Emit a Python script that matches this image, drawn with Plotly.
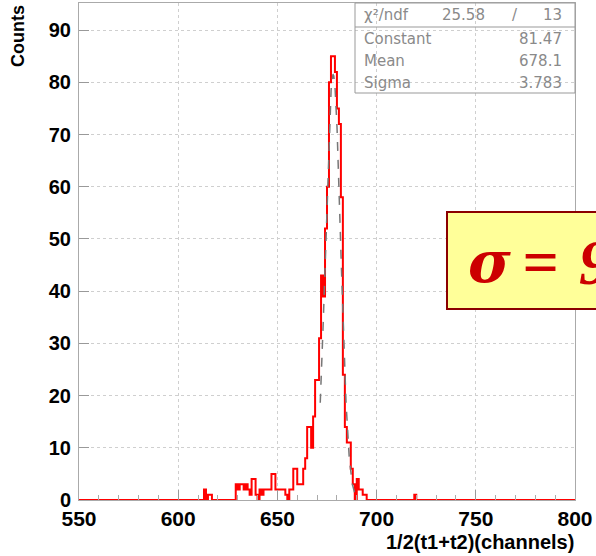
import numpy as np
import plotly.graph_objects as go

# ---- data -------------------------------------------------------------
channels = list(range(610, 722))
counts_nonzero = {
    613: 2, 615: 1, 616: 1,
    629: 3, 630: 2, 631: 3, 632: 3, 633: 2, 634: 3, 635: 2, 636: 1, 637: 4,
    638: 4, 639: 1, 641: 2, 642: 1, 643: 2, 644: 2, 645: 2, 646: 2, 647: 5,
    648: 5, 649: 2, 650: 2, 651: 2, 652: 2, 653: 2, 654: 1,
    656: 2, 657: 2, 658: 6, 659: 6, 660: 3, 661: 3, 662: 3, 663: 6, 664: 8,
    665: 14, 666: 14, 667: 10, 668: 16, 669: 23, 670: 23, 671: 31, 672: 43,
    673: 39, 674: 52, 675: 60, 676: 80, 677: 85, 678: 85, 679: 82, 680: 75,
    681: 72, 682: 58, 683: 24, 684: 14, 685: 11, 686: 11, 687: 6, 688: 3,
    690: 4, 691: 2, 692: 2, 693: 1, 694: 1, 719: 1,
}
counts = [counts_nonzero.get(c, 0) for c in channels]

x_range = [550, 800]
y_range = [0, 95.2]
x_ticks = [550, 600, 650, 700, 750, 800]
y_ticks = [0, 10, 20, 30, 40, 50, 60, 70, 80, 90]

fit_constant = 81.47
fit_mean = 678.1
fit_sigma = 3.783
fit_lo, fit_hi = 671.6, 690.0
stats_rows = [("Constant", "81.47"), ("Mean", "678.1"), ("Sigma", "3.783")]
chi2_text = ("χ²/ndf", "25.58", "/", "13")
sigma_label = ("σ", "=", "9")

# ---- histogram polyline ----------------------------------------------
hx = [x_range[0]] + channels + [channels[-1] + 1, x_range[1]]
hy = [0] + counts + [0, 0]

fx = np.linspace(fit_lo, fit_hi, 200)
fy = fit_constant * np.exp(-0.5 * ((fx - fit_mean) / fit_sigma) ** 2)

fig = go.Figure()
fig.add_trace(go.Scatter(x=hx, y=hy, mode="lines", line=dict(color="#ff0000", width=2, shape="hv"),
                         hoverinfo="skip", showlegend=False))
fig.add_trace(go.Scatter(x=fx, y=fy, mode="lines", line=dict(color="#777777", width=1.5, dash="dash"),
                         hoverinfo="skip", showlegend=False))

W, H = 596, 556
L, R, T, B = 79, 21, 3, 56
PW, PH = W - L - R, H - T - B


def px(x):
    return (x - L) / PW


def py(y):
    return (H - B - y) / PH


tickfont = dict(family="Liberation Sans, Arial", size=20, color="black", weight="bold")

fig.update_layout(
    width=W, height=H,
    margin=dict(l=L, r=R, t=T, b=B),
    paper_bgcolor="white", plot_bgcolor="white",
    xaxis=dict(range=x_range, tickvals=x_ticks, ticks="inside", ticklen=10, tickcolor="#999",
               showline=True, linecolor="#aaa", linewidth=1, mirror=True,
               showgrid=True, gridcolor="#cfcfcf", griddash="dot", gridwidth=1,
               minor=dict(dtick=10, ticks="inside", ticklen=5, tickcolor="#aaa", showgrid=False),
               tickfont=dict(tickfont, size=21), zeroline=False),
    yaxis=dict(range=y_range, tickvals=y_ticks, ticks="inside", ticklen=10, tickcolor="#999",
               showline=True, linecolor="#aaa", linewidth=1, mirror=True,
               showgrid=True, gridcolor="#cfcfcf", griddash="dot", gridwidth=1,
               tickfont=tickfont, zeroline=False, ticklabelstandoff=3),
)

# axis titles
fig.add_annotation(text="1/2(t1+t2)(channels)", xref="paper", yref="paper",
                   x=px(576), y=py(542), xanchor="right", yanchor="middle", showarrow=False,
                   font=dict(family="Liberation Sans, Arial", size=20, color="black", weight="bold"))
fig.add_annotation(text="Counts", xref="paper", yref="paper", textangle=-90,
                   x=px(18), y=py(3), xanchor="center", yanchor="top", showarrow=False,
                   font=dict(family="Liberation Sans, Arial", size=18, color="black", weight="bold"))

# stats box
bx0, bx1, by0, by1 = 355, 575, 3, 93
fig.add_shape(type="rect", xref="paper", yref="paper", x0=px(bx0), x1=px(bx1), y0=py(by1), y1=py(by0),
              line=dict(color="#999", width=1), fillcolor="rgba(0,0,0,0)")
fig.add_shape(type="line", xref="paper", yref="paper", x0=px(bx0), x1=px(bx1), y0=py(27), y1=py(27),
              line=dict(color="#999", width=1))
sfont = dict(family="DejaVu Sans, Liberation Sans", size=15, color="#8a8a8a")
row_y = [15, 39, 61, 83]
fig.add_annotation(text=chi2_text[0], xref="paper", yref="paper", x=px(362), y=py(row_y[0]),
                   xanchor="left", yanchor="middle", showarrow=False, font=sfont)
fig.add_annotation(text=chi2_text[1], xref="paper", yref="paper", x=px(487), y=py(row_y[0]),
                   xanchor="right", yanchor="middle", showarrow=False, font=sfont)
fig.add_annotation(text=chi2_text[2], xref="paper", yref="paper", x=px(515), y=py(row_y[0]),
                   xanchor="center", yanchor="middle", showarrow=False, font=sfont)
fig.add_annotation(text=chi2_text[3], xref="paper", yref="paper", x=px(564), y=py(row_y[0]),
                   xanchor="right", yanchor="middle", showarrow=False, font=sfont)
for (name, val), yy in zip(stats_rows, row_y[1:]):
    fig.add_annotation(text=name, xref="paper", yref="paper", x=px(362), y=py(yy),
                       xanchor="left", yanchor="middle", showarrow=False, font=sfont)
    fig.add_annotation(text=val, xref="paper", yref="paper", x=px(564), y=py(yy),
                       xanchor="right", yanchor="middle", showarrow=False, font=sfont)

# sigma label box (clipped at right edge, as in the reference)
fig.add_shape(type="rect", xref="paper", yref="paper", x0=px(447), x1=px(640), y0=py(309), y1=py(212),
              line=dict(color="#8b0000", width=2), fillcolor="#ffff99", layer="above")
sig_fonts = [dict(family="DejaVu Serif, Liberation Serif", size=58, color="#cc0000"),
             dict(family="Liberation Serif, Times New Roman", size=64, color="#cc0000"),
             dict(family="Liberation Serif, Times New Roman", size=64, color="#cc0000")]
for txt, xl, f in zip(sigma_label, [466, 520, 577], sig_fonts):
    fig.add_annotation(text="<b><i>" + txt + "</i></b>", xref="paper", yref="paper", x=px(xl), y=py(262),
                       xanchor="left", yanchor="middle", showarrow=False, font=f)

fig.write_html("out.html")
